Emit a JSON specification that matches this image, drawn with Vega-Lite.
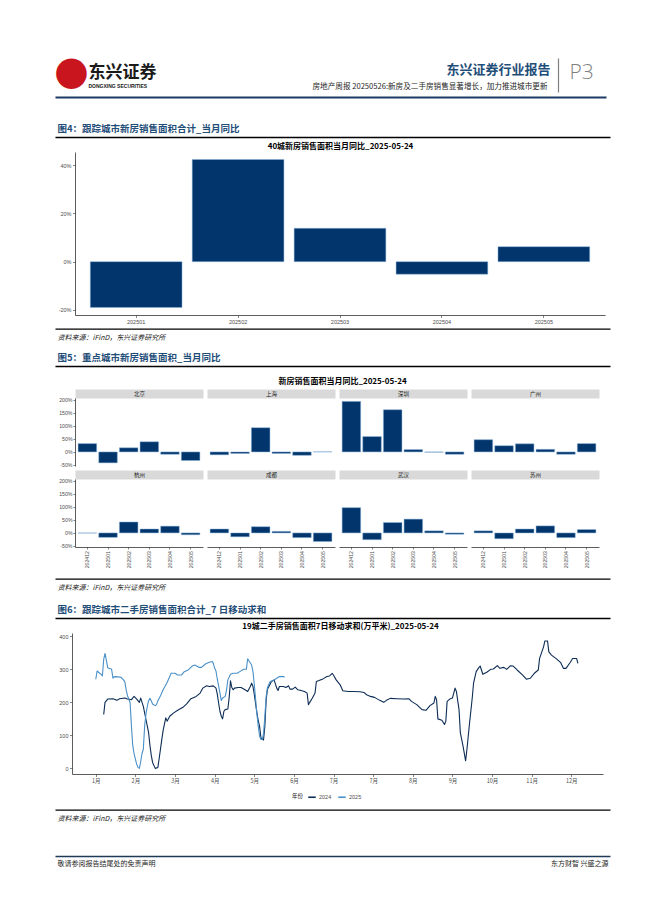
{
  "$schema": "https://vega.github.io/schema/vega-lite/v6.json",
  "background": "white",
  "padding": {"left": 45, "top": 50, "right": 5, "bottom": 5},
  "spacing": 0,
  "bounds": "full",
  "resolve": {"scale": {"x": "independent", "y": "independent", "color": "independent"}, "legend": {"color": "independent"}},
  "config": {
    "view": {"stroke": null},
    "axis": {"grid": false, "labelFlush": false, "labelOverlap": false, "minExtent": 0, "maxExtent": 300, "titlePadding": 0, "labelFont": "Liberation Sans", "titleFont": "Noto Sans CJK SC", "domainCap": "butt"}
  },
  "datasets": {
    "dummy": [{"a": 0, "b": 0}],
    "fig4": [
      {"m": "202501", "v": -19.0}, {"m": "202502", "v": 42.3}, {"m": "202503", "v": 13.8}, {"m": "202504", "v": -5.2}, {"m": "202505", "v": 6.2}
    ],
    "fig5": [
      {"city": "北京", "m": "202412", "v": 32}, {"city": "北京", "m": "202501", "v": -42}, {"city": "北京", "m": "202502", "v": 16}, {"city": "北京", "m": "202503", "v": 39}, {"city": "北京", "m": "202504", "v": -9}, {"city": "北京", "m": "202505", "v": -33},
      {"city": "上海", "m": "202412", "v": -11}, {"city": "上海", "m": "202501", "v": -6}, {"city": "上海", "m": "202502", "v": 93}, {"city": "上海", "m": "202503", "v": -6}, {"city": "上海", "m": "202504", "v": -13}, {"city": "上海", "m": "202505", "v": 0.5},
      {"city": "深圳", "m": "202412", "v": 194}, {"city": "深圳", "m": "202501", "v": 59}, {"city": "深圳", "m": "202502", "v": 162}, {"city": "深圳", "m": "202503", "v": 9}, {"city": "深圳", "m": "202504", "v": -1}, {"city": "深圳", "m": "202505", "v": -9},
      {"city": "广州", "m": "202412", "v": 47}, {"city": "广州", "m": "202501", "v": 24}, {"city": "广州", "m": "202502", "v": 31}, {"city": "广州", "m": "202503", "v": 10}, {"city": "广州", "m": "202504", "v": -9}, {"city": "广州", "m": "202505", "v": 32},
      {"city": "杭州", "m": "202412", "v": -0.5}, {"city": "杭州", "m": "202501", "v": -17}, {"city": "杭州", "m": "202502", "v": 42}, {"city": "杭州", "m": "202503", "v": 15}, {"city": "杭州", "m": "202504", "v": 26}, {"city": "杭州", "m": "202505", "v": -7},
      {"city": "成都", "m": "202412", "v": 15}, {"city": "成都", "m": "202501", "v": -15}, {"city": "成都", "m": "202502", "v": 24}, {"city": "成都", "m": "202503", "v": 6}, {"city": "成都", "m": "202504", "v": -18}, {"city": "成都", "m": "202505", "v": -33},
      {"city": "武汉", "m": "202412", "v": 97}, {"city": "武汉", "m": "202501", "v": -26}, {"city": "武汉", "m": "202502", "v": 40}, {"city": "武汉", "m": "202503", "v": 53}, {"city": "武汉", "m": "202504", "v": 8}, {"city": "武汉", "m": "202505", "v": -5},
      {"city": "苏州", "m": "202412", "v": 8}, {"city": "苏州", "m": "202501", "v": -22}, {"city": "苏州", "m": "202502", "v": 15}, {"city": "苏州", "m": "202503", "v": 27}, {"city": "苏州", "m": "202504", "v": -18}, {"city": "苏州", "m": "202505", "v": 13}
    ],
    "fig6": [
      {"year": "2024", "day": 7, "v": 163}, {"year": "2024", "day": 8, "v": 200}, {"year": "2024", "day": 10, "v": 210}, {"year": "2024", "day": 14, "v": 211}, {"year": "2024", "day": 17, "v": 206}, {"year": "2024", "day": 19, "v": 211}, {"year": "2024", "day": 23, "v": 213}, {"year": "2024", "day": 25, "v": 210}, {"year": "2024", "day": 28, "v": 208}, {"year": "2024", "day": 30, "v": 218}, {"year": "2024", "day": 32, "v": 210}, {"year": "2024", "day": 34, "v": 200}, {"year": "2024", "day": 35, "v": 213}, {"year": "2024", "day": 37, "v": 188}, {"year": "2024", "day": 39, "v": 148}, {"year": "2024", "day": 41, "v": 108}, {"year": "2024", "day": 42, "v": 70}, {"year": "2024", "day": 43, "v": 40}, {"year": "2024", "day": 44, "v": 18}, {"year": "2024", "day": 46, "v": 0}, {"year": "2024", "day": 48, "v": 3}, {"year": "2024", "day": 49, "v": 30}, {"year": "2024", "day": 51, "v": 88}, {"year": "2024", "day": 52, "v": 115}, {"year": "2024", "day": 53, "v": 135}, {"year": "2024", "day": 54, "v": 153}, {"year": "2024", "day": 55, "v": 143}, {"year": "2024", "day": 57, "v": 158}, {"year": "2024", "day": 60, "v": 168}, {"year": "2024", "day": 63, "v": 176}, {"year": "2024", "day": 67, "v": 185}, {"year": "2024", "day": 70, "v": 196}, {"year": "2024", "day": 73, "v": 211}, {"year": "2024", "day": 77, "v": 218}, {"year": "2024", "day": 80, "v": 228}, {"year": "2024", "day": 82, "v": 243}, {"year": "2024", "day": 85, "v": 250}, {"year": "2024", "day": 87, "v": 248}, {"year": "2024", "day": 90, "v": 250}, {"year": "2024", "day": 92, "v": 243}, {"year": "2024", "day": 93, "v": 225}, {"year": "2024", "day": 94, "v": 198}, {"year": "2024", "day": 95, "v": 173}, {"year": "2024", "day": 96, "v": 158}, {"year": "2024", "day": 97, "v": 150}, {"year": "2024", "day": 98, "v": 173}, {"year": "2024", "day": 99, "v": 178}, {"year": "2024", "day": 101, "v": 180}, {"year": "2024", "day": 102, "v": 215}, {"year": "2024", "day": 103, "v": 265}, {"year": "2024", "day": 104, "v": 245}, {"year": "2024", "day": 105, "v": 238}, {"year": "2024", "day": 106, "v": 243}, {"year": "2024", "day": 109, "v": 245}, {"year": "2024", "day": 111, "v": 245}, {"year": "2024", "day": 114, "v": 238}, {"year": "2024", "day": 116, "v": 233}, {"year": "2024", "day": 118, "v": 248}, {"year": "2024", "day": 119, "v": 258}, {"year": "2024", "day": 120, "v": 248}, {"year": "2024", "day": 121, "v": 225}, {"year": "2024", "day": 122, "v": 195}, {"year": "2024", "day": 123, "v": 168}, {"year": "2024", "day": 124, "v": 145}, {"year": "2024", "day": 125, "v": 128}, {"year": "2024", "day": 126, "v": 93}, {"year": "2024", "day": 127, "v": 88}, {"year": "2024", "day": 128, "v": 86}, {"year": "2024", "day": 129, "v": 128}, {"year": "2024", "day": 130, "v": 208}, {"year": "2024", "day": 131, "v": 240}, {"year": "2024", "day": 134, "v": 263}, {"year": "2024", "day": 136, "v": 268}, {"year": "2024", "day": 138, "v": 243}, {"year": "2024", "day": 139, "v": 236}, {"year": "2024", "day": 140, "v": 248}, {"year": "2024", "day": 143, "v": 248}, {"year": "2024", "day": 145, "v": 245}, {"year": "2024", "day": 147, "v": 250}, {"year": "2024", "day": 148, "v": 240}, {"year": "2024", "day": 150, "v": 240}, {"year": "2024", "day": 152, "v": 246}, {"year": "2024", "day": 154, "v": 238}, {"year": "2024", "day": 157, "v": 235}, {"year": "2024", "day": 159, "v": 233}, {"year": "2024", "day": 161, "v": 228}, {"year": "2024", "day": 162, "v": 193}, {"year": "2024", "day": 163, "v": 200}, {"year": "2024", "day": 165, "v": 213}, {"year": "2024", "day": 167, "v": 228}, {"year": "2024", "day": 168, "v": 263}, {"year": "2024", "day": 170, "v": 266}, {"year": "2024", "day": 173, "v": 271}, {"year": "2024", "day": 176, "v": 278}, {"year": "2024", "day": 178, "v": 280}, {"year": "2024", "day": 180, "v": 288}, {"year": "2024", "day": 181, "v": 282}, {"year": "2024", "day": 183, "v": 268}, {"year": "2024", "day": 186, "v": 253}, {"year": "2024", "day": 188, "v": 235}, {"year": "2024", "day": 192, "v": 233}, {"year": "2024", "day": 196, "v": 233}, {"year": "2024", "day": 201, "v": 232}, {"year": "2024", "day": 204, "v": 230}, {"year": "2024", "day": 206, "v": 223}, {"year": "2024", "day": 209, "v": 218}, {"year": "2024", "day": 212, "v": 215}, {"year": "2024", "day": 216, "v": 206}, {"year": "2024", "day": 219, "v": 200}, {"year": "2024", "day": 221, "v": 206}, {"year": "2024", "day": 224, "v": 212}, {"year": "2024", "day": 229, "v": 211}, {"year": "2024", "day": 234, "v": 210}, {"year": "2024", "day": 238, "v": 211}, {"year": "2024", "day": 240, "v": 203}, {"year": "2024", "day": 244, "v": 193}, {"year": "2024", "day": 248, "v": 178}, {"year": "2024", "day": 251, "v": 176}, {"year": "2024", "day": 254, "v": 190}, {"year": "2024", "day": 257, "v": 198}, {"year": "2024", "day": 258, "v": 218}, {"year": "2024", "day": 259, "v": 208}, {"year": "2024", "day": 260, "v": 150}, {"year": "2024", "day": 263, "v": 146}, {"year": "2024", "day": 265, "v": 133}, {"year": "2024", "day": 266, "v": 143}, {"year": "2024", "day": 267, "v": 203}, {"year": "2024", "day": 269, "v": 210}, {"year": "2024", "day": 271, "v": 213}, {"year": "2024", "day": 273, "v": 243}, {"year": "2024", "day": 274, "v": 233}, {"year": "2024", "day": 276, "v": 178}, {"year": "2024", "day": 277, "v": 108}, {"year": "2024", "day": 279, "v": 68}, {"year": "2024", "day": 281, "v": 23}, {"year": "2024", "day": 282, "v": 58}, {"year": "2024", "day": 284, "v": 138}, {"year": "2024", "day": 286, "v": 213}, {"year": "2024", "day": 287, "v": 258}, {"year": "2024", "day": 289, "v": 293}, {"year": "2024", "day": 291, "v": 305}, {"year": "2024", "day": 292, "v": 310}, {"year": "2024", "day": 294, "v": 285}, {"year": "2024", "day": 297, "v": 291}, {"year": "2024", "day": 300, "v": 300}, {"year": "2024", "day": 302, "v": 301}, {"year": "2024", "day": 305, "v": 311}, {"year": "2024", "day": 307, "v": 303}, {"year": "2024", "day": 310, "v": 306}, {"year": "2024", "day": 312, "v": 300}, {"year": "2024", "day": 315, "v": 311}, {"year": "2024", "day": 317, "v": 310}, {"year": "2024", "day": 320, "v": 298}, {"year": "2024", "day": 324, "v": 283}, {"year": "2024", "day": 327, "v": 270}, {"year": "2024", "day": 330, "v": 273}, {"year": "2024", "day": 333, "v": 288}, {"year": "2024", "day": 336, "v": 298}, {"year": "2024", "day": 337, "v": 333}, {"year": "2024", "day": 340, "v": 368}, {"year": "2024", "day": 341, "v": 386}, {"year": "2024", "day": 343, "v": 386}, {"year": "2024", "day": 344, "v": 353}, {"year": "2024", "day": 346, "v": 343}, {"year": "2024", "day": 350, "v": 331}, {"year": "2024", "day": 353, "v": 320}, {"year": "2024", "day": 355, "v": 303}, {"year": "2024", "day": 357, "v": 303}, {"year": "2024", "day": 360, "v": 320}, {"year": "2024", "day": 362, "v": 333}, {"year": "2024", "day": 365, "v": 333}, {"year": "2024", "day": 366, "v": 318},
      {"year": "2025", "day": 1, "v": 270}, {"year": "2025", "day": 2, "v": 295}, {"year": "2025", "day": 4, "v": 288}, {"year": "2025", "day": 5, "v": 285}, {"year": "2025", "day": 6, "v": 280}, {"year": "2025", "day": 7, "v": 330}, {"year": "2025", "day": 8, "v": 348}, {"year": "2025", "day": 9, "v": 328}, {"year": "2025", "day": 10, "v": 305}, {"year": "2025", "day": 12, "v": 302}, {"year": "2025", "day": 13, "v": 300}, {"year": "2025", "day": 14, "v": 273}, {"year": "2025", "day": 15, "v": 278}, {"year": "2025", "day": 18, "v": 277}, {"year": "2025", "day": 20, "v": 276}, {"year": "2025", "day": 22, "v": 268}, {"year": "2025", "day": 23, "v": 262}, {"year": "2025", "day": 24, "v": 238}, {"year": "2025", "day": 25, "v": 220}, {"year": "2025", "day": 26, "v": 210}, {"year": "2025", "day": 27, "v": 198}, {"year": "2025", "day": 28, "v": 128}, {"year": "2025", "day": 29, "v": 68}, {"year": "2025", "day": 30, "v": 45}, {"year": "2025", "day": 31, "v": 28}, {"year": "2025", "day": 32, "v": 12}, {"year": "2025", "day": 33, "v": 3}, {"year": "2025", "day": 34, "v": 0}, {"year": "2025", "day": 35, "v": 20}, {"year": "2025", "day": 36, "v": 45}, {"year": "2025", "day": 37, "v": 58}, {"year": "2025", "day": 38, "v": 128}, {"year": "2025", "day": 39, "v": 165}, {"year": "2025", "day": 40, "v": 188}, {"year": "2025", "day": 41, "v": 205}, {"year": "2025", "day": 42, "v": 212}, {"year": "2025", "day": 43, "v": 205}, {"year": "2025", "day": 44, "v": 195}, {"year": "2025", "day": 46, "v": 190}, {"year": "2025", "day": 47, "v": 193}, {"year": "2025", "day": 48, "v": 205}, {"year": "2025", "day": 50, "v": 220}, {"year": "2025", "day": 52, "v": 238}, {"year": "2025", "day": 55, "v": 260}, {"year": "2025", "day": 57, "v": 278}, {"year": "2025", "day": 58, "v": 288}, {"year": "2025", "day": 61, "v": 288}, {"year": "2025", "day": 63, "v": 283}, {"year": "2025", "day": 66, "v": 283}, {"year": "2025", "day": 68, "v": 293}, {"year": "2025", "day": 71, "v": 298}, {"year": "2025", "day": 74, "v": 310}, {"year": "2025", "day": 76, "v": 313}, {"year": "2025", "day": 79, "v": 306}, {"year": "2025", "day": 81, "v": 306}, {"year": "2025", "day": 84, "v": 316}, {"year": "2025", "day": 86, "v": 320}, {"year": "2025", "day": 89, "v": 324}, {"year": "2025", "day": 90, "v": 318}, {"year": "2025", "day": 91, "v": 303}, {"year": "2025", "day": 92, "v": 295}, {"year": "2025", "day": 93, "v": 270}, {"year": "2025", "day": 94, "v": 250}, {"year": "2025", "day": 95, "v": 228}, {"year": "2025", "day": 96, "v": 206}, {"year": "2025", "day": 97, "v": 213}, {"year": "2025", "day": 99, "v": 218}, {"year": "2025", "day": 100, "v": 238}, {"year": "2025", "day": 101, "v": 268}, {"year": "2025", "day": 103, "v": 285}, {"year": "2025", "day": 105, "v": 288}, {"year": "2025", "day": 108, "v": 288}, {"year": "2025", "day": 110, "v": 293}, {"year": "2025", "day": 113, "v": 300}, {"year": "2025", "day": 115, "v": 300}, {"year": "2025", "day": 116, "v": 332}, {"year": "2025", "day": 117, "v": 325}, {"year": "2025", "day": 119, "v": 313}, {"year": "2025", "day": 120, "v": 293}, {"year": "2025", "day": 121, "v": 255}, {"year": "2025", "day": 122, "v": 210}, {"year": "2025", "day": 123, "v": 165}, {"year": "2025", "day": 124, "v": 128}, {"year": "2025", "day": 125, "v": 98}, {"year": "2025", "day": 126, "v": 88}, {"year": "2025", "day": 127, "v": 88}, {"year": "2025", "day": 128, "v": 105}, {"year": "2025", "day": 129, "v": 158}, {"year": "2025", "day": 130, "v": 218}, {"year": "2025", "day": 131, "v": 245}, {"year": "2025", "day": 133, "v": 263}, {"year": "2025", "day": 135, "v": 265}, {"year": "2025", "day": 138, "v": 273}, {"year": "2025", "day": 140, "v": 278}, {"year": "2025", "day": 143, "v": 278}, {"year": "2025", "day": 144, "v": 276}
    ]
  },
  "vconcat": [
    {
      "width": 530, "height": 50,
      "data": {"name": "dummy"},
      "layer": [
        {
          "mark": {"type": "point", "size": 0, "opacity": 0},
          "encoding": {
            "x": {"field": "a", "type": "quantitative",
              "scale": {"domain": [-20, 531], "range": [-20, 531], "zero": false, "nice": false},
              "axis": {"orient": "bottom", "offset": -3, "domain": true, "domainColor": "#1c3b62", "domainWidth": 2.2,
                "ticks": false, "labels": true, "values": [-4], "labelExpr": "'●'",
                "labelFont": "DejaVu Sans", "labelFontSize": 40, "labelColor": "#c9161e", "labelPadding": -26,
                "labelAlign": "center", "labelBaseline": "middle",
                "title": "房地产周报 20250526:新房及二手房销售显著增长，加力推进城市更新",
                "titleX": 472, "titleY": -11, "titleAlign": "right", "titleBaseline": "middle",
                "titleFontSize": 7.6, "titleFontWeight": "normal", "titleColor": "#262626"}},
            "y": {"field": "b", "type": "quantitative",
              "scale": {"domain": [0, 50], "zero": false, "nice": false},
              "axis": {"orient": "left", "minExtent": 30, "domain": false, "ticks": false, "labels": true,
                "values": [15], "labelExpr": "'DONGXING SECURITIES'", "labelAlign": "left", "labelBaseline": "middle",
                "labelPadding": -13, "labelFont": "Liberation Sans", "labelFontSize": 5, "labelFontWeight": "bold", "labelColor": "#1a1a1a",
                "title": "东兴证券", "titleAngle": 0, "titleX": 13, "titleY": 22, "titleAlign": "left", "titleBaseline": "middle",
                "titleFontSize": 17, "titleFontWeight": "bold", "titleColor": "#1a1a1a"}}
          }
        },
        {
          "mark": {"type": "point", "size": 0, "opacity": 0},
          "encoding": {
            "x": {"field": "a", "type": "quantitative",
              "scale": {"domain": [-20, 531], "range": [-20, 531], "zero": false, "nice": false},
              "axis": {"orient": "top", "domain": false, "ticks": false, "labels": false,
                "title": "东兴证券行业报告", "titleX": 475, "titleY": 19, "titleAlign": "right", "titleBaseline": "middle",
                "titleFontSize": 13, "titleFontWeight": "bold", "titleColor": "#1f4e79"}},
            "y": {"field": "b", "type": "quantitative",
              "scale": {"domain": [0, 1], "range": [42, 8], "zero": false, "nice": false},
              "axis": {"orient": "right", "offset": -47, "domain": true, "domainColor": "#808080", "domainWidth": 1.2, "ticks": false, "labels": false,
                "title": "P3", "titleAngle": 0, "titleX": 11, "titleY": 22, "titleAlign": "left", "titleBaseline": "middle",
                "titleFont": "Open Sans", "titleFontSize": 21, "titleFontWeight": 300, "titleColor": "#7f7f7f"}}
          }
        }
      ],
      "resolve": {"scale": {"x": "independent", "y": "independent"}}
    },
    {
      "width": 530, "height": 38,
      "data": {"name": "dummy"},
      "mark": {"type": "point", "size": 0, "opacity": 0},
      "encoding": {
        "x": {"field": "a", "type": "quantitative",
          "scale": {"domain": [-20, 535], "range": [-20, 535], "zero": false, "nice": false},
          "axis": {"orient": "bottom", "offset": -1, "domain": true, "domainColor": "#000000", "domainWidth": 1.3, "ticks": false, "labels": false,
            "title": "图4：跟踪城市新房销售面积合计_当月同比", "titleX": -18, "titleY": -8.5, "titleAlign": "left", "titleBaseline": "middle",
            "titleFontSize": 9.5, "titleFontWeight": "bold", "titleColor": "#1f4e79"}},
        "y": {"field": "b", "type": "quantitative", "scale": {"domain": [0, 1]}, "axis": null}
      }
    },
    {
      "width": 530, "height": 190,
      "layer": [
        {
          "data": {"name": "fig4"},
          "mark": {"type": "bar", "fill": "#01356b", "stroke": "#8db4dc", "strokeWidth": 0.5},
          "encoding": {
            "x": {"field": "m", "type": "nominal", "scale": {"paddingInner": 0.1, "paddingOuter": 0.15},
              "axis": {"orient": "bottom", "offset": -13, "domain": true, "domainColor": "#333333", "domainWidth": 0.8,
                "ticks": true, "tickSize": 2.5, "tickColor": "#333333", "tickWidth": 0.6,
                "labels": true, "labelAngle": 0, "labelFontSize": 5.5, "labelColor": "#4d4d4d", "labelPadding": 1.5, "title": null}},
            "y": {"field": "v", "type": "quantitative",
              "scale": {"domain": [-22.1, 45.4], "range": [177, 14], "zero": false, "nice": false},
              "axis": {"orient": "left", "values": [-20, 0, 20, 40], "labelExpr": "datum.value + '%'",
                "domain": true, "domainColor": "#333333", "domainWidth": 0.8,
                "ticks": true, "tickSize": 2.5, "tickColor": "#333333", "tickWidth": 0.6,
                "labels": true, "labelFontSize": 5.5, "labelColor": "#4d4d4d", "labelPadding": 1.5, "title": null}}
          }
        },
        {
          "data": {"name": "dummy"},
          "mark": {"type": "point", "size": 0, "opacity": 0},
          "encoding": {
            "x": {"field": "a", "type": "quantitative", "scale": {"domain": [0, 530], "zero": false, "nice": false},
              "axis": {"orient": "top", "domain": false, "ticks": false, "labels": false,
                "title": "40城新房销售面积当月同比_2025-05-24", "titleX": 265, "titleY": 8, "titleAlign": "center", "titleBaseline": "middle",
                "titleFontSize": 8, "titleFontWeight": "bold", "titleColor": "#000000"}},
            "y": {"field": "b", "type": "quantitative", "scale": {"domain": [0, 1]}, "axis": null}
          }
        }
      ],
      "resolve": {"scale": {"x": "independent", "y": "independent"}}
    },
    {
      "width": 530, "height": 61,
      "data": {"name": "dummy"},
      "layer": [
        {
          "mark": {"type": "point", "size": 0, "opacity": 0},
          "encoding": {
            "x": {"field": "a", "type": "quantitative",
              "scale": {"domain": [-20, 535], "range": [-20, 535], "zero": false, "nice": false},
              "axis": {"orient": "bottom", "offset": -23, "domain": true, "domainColor": "#000000", "domainWidth": 1.3, "ticks": false, "labels": false,
                "title": "图5：重点城市新房销售面积_当月同比", "titleX": -18, "titleY": -8.5, "titleAlign": "left", "titleBaseline": "middle",
                "titleFontSize": 9.5, "titleFontWeight": "bold", "titleColor": "#1f4e79"}},
            "y": {"field": "b", "type": "quantitative", "scale": {"domain": [0, 1]},
              "axis": {"orient": "left", "domain": false, "ticks": false, "labels": false,
                "title": "新房销售面积当月同比_2025-05-24", "titleAngle": 0, "titleX": 267, "titleY": 53, "titleAlign": "center", "titleBaseline": "middle",
                "titleFontSize": 8, "titleFontWeight": "bold", "titleColor": "#000000"}}
          }
        },
        {
          "mark": {"type": "point", "size": 0, "opacity": 0},
          "encoding": {
            "x": {"field": "a", "type": "quantitative",
              "scale": {"domain": [-20, 535], "range": [-20, 535], "zero": false, "nice": false},
              "axis": {"orient": "top", "offset": -0.6, "domain": true, "domainColor": "#000000", "domainWidth": 1.3, "ticks": false, "labels": false,
                "title": "资料来源：iFinD，东兴证券研究所", "titleX": -18, "titleY": 8.5, "titleAlign": "left", "titleBaseline": "middle",
                "titleFontSize": 7, "titleFontStyle": "italic", "titleFontWeight": "normal", "titleColor": "#1a1a1a"}},
            "y": {"field": "b", "type": "quantitative", "scale": {"domain": [0, 1]}, "axis": null}
          }
        }
      ],
      "resolve": {"scale": {"x": "independent", "y": "independent"}}
    },
    {
      "spacing": 4, "bounds": "flush",
      "hconcat": [
        {
          "width": 128, "height": 79, "data": {"name": "fig5"},
          "transform": [{"filter": {"field": "city", "equal": "北京"}}],
          "mark": {"type": "bar", "fill": "#01356b", "stroke": "#8db4dc", "strokeWidth": 0.5},
          "encoding": {
            "x": {"field": "m", "type": "nominal", "scale": {"paddingInner": 0.1, "paddingOuter": 0.15},
              "axis": {"orient": "top", "offset": -4.5, "domain": true, "domainColor": "#d9d9d9", "domainWidth": 9, "ticks": false, "labels": false,
                "title": "北京", "titleX": 64, "titleY": 0, "titleAlign": "center", "titleBaseline": "middle", "titleFontSize": 5.5, "titleFontWeight": "normal", "titleColor": "#1a1a1a"}},
            "y": {"field": "v", "type": "quantitative", "scale": {"domain": [-54, 207], "range": [77, 9], "zero": false, "nice": false},
              "axis": {"orient": "left", "values": [-50, 0, 50, 100, 150, 200], "labelExpr": "datum.value + '%'",
                "domain": true, "domainColor": "#333333", "domainWidth": 0.8, "ticks": true, "tickSize": 2, "tickColor": "#333333", "tickWidth": 0.6,
                "labels": true, "labelFontSize": 5.2, "labelColor": "#4d4d4d", "labelPadding": 1, "title": null}}
          }
        },
        {
          "width": 128, "height": 79, "data": {"name": "fig5"},
          "transform": [{"filter": {"field": "city", "equal": "上海"}}],
          "mark": {"type": "bar", "fill": "#01356b", "stroke": "#8db4dc", "strokeWidth": 0.5},
          "encoding": {
            "x": {"field": "m", "type": "nominal", "scale": {"paddingInner": 0.1, "paddingOuter": 0.15},
              "axis": {"orient": "top", "offset": -4.5, "domain": true, "domainColor": "#d9d9d9", "domainWidth": 9, "ticks": false, "labels": false,
                "title": "上海", "titleX": 64, "titleY": 0, "titleAlign": "center", "titleBaseline": "middle", "titleFontSize": 5.5, "titleFontWeight": "normal", "titleColor": "#1a1a1a"}},
            "y": {"field": "v", "type": "quantitative", "scale": {"domain": [-54, 207], "range": [77, 9], "zero": false, "nice": false}, "axis": null}
          }
        },
        {
          "width": 128, "height": 79, "data": {"name": "fig5"},
          "transform": [{"filter": {"field": "city", "equal": "深圳"}}],
          "mark": {"type": "bar", "fill": "#01356b", "stroke": "#8db4dc", "strokeWidth": 0.5},
          "encoding": {
            "x": {"field": "m", "type": "nominal", "scale": {"paddingInner": 0.1, "paddingOuter": 0.15},
              "axis": {"orient": "top", "offset": -4.5, "domain": true, "domainColor": "#d9d9d9", "domainWidth": 9, "ticks": false, "labels": false,
                "title": "深圳", "titleX": 64, "titleY": 0, "titleAlign": "center", "titleBaseline": "middle", "titleFontSize": 5.5, "titleFontWeight": "normal", "titleColor": "#1a1a1a"}},
            "y": {"field": "v", "type": "quantitative", "scale": {"domain": [-54, 207], "range": [77, 9], "zero": false, "nice": false}, "axis": null}
          }
        },
        {
          "width": 128, "height": 79, "data": {"name": "fig5"},
          "transform": [{"filter": {"field": "city", "equal": "广州"}}],
          "mark": {"type": "bar", "fill": "#01356b", "stroke": "#8db4dc", "strokeWidth": 0.5},
          "encoding": {
            "x": {"field": "m", "type": "nominal", "scale": {"paddingInner": 0.1, "paddingOuter": 0.15},
              "axis": {"orient": "top", "offset": -4.5, "domain": true, "domainColor": "#d9d9d9", "domainWidth": 9, "ticks": false, "labels": false,
                "title": "广州", "titleX": 64, "titleY": 0, "titleAlign": "center", "titleBaseline": "middle", "titleFontSize": 5.5, "titleFontWeight": "normal", "titleColor": "#1a1a1a"}},
            "y": {"field": "v", "type": "quantitative", "scale": {"domain": [-54, 207], "range": [77, 9], "zero": false, "nice": false}, "axis": null}
          }
        }
      ]
    },
    {
      "spacing": 4, "bounds": "flush",
      "hconcat": [
        {
          "width": 128, "height": 109, "data": {"name": "fig5"},
          "transform": [{"filter": {"field": "city", "equal": "杭州"}}],
          "layer": [
            {
              "mark": {"type": "bar", "fill": "#01356b", "stroke": "#8db4dc", "strokeWidth": 0.5},
              "encoding": {
                "x": {"field": "m", "type": "nominal", "scale": {"paddingInner": 0.1, "paddingOuter": 0.15},
                  "axis": {"orient": "bottom", "offset": -31, "domain": true, "domainColor": "#333333", "domainWidth": 0.8, "ticks": true, "tickSize": 2, "tickColor": "#333333", "tickWidth": 0.6,
                    "labels": true, "labelAngle": 270, "labelAlign": "right", "labelBaseline": "middle", "labelFontSize": 5.2, "labelColor": "#4d4d4d", "labelPadding": 1.5, "title": null}},
                "y": {"field": "v", "type": "quantitative", "scale": {"domain": [-54, 207], "range": [78, 10], "zero": false, "nice": false},
                  "axis": {"orient": "left", "values": [-50, 0, 50, 100, 150, 200], "labelExpr": "datum.value + '%'",
                    "domain": true, "domainColor": "#333333", "domainWidth": 0.8, "ticks": true, "tickSize": 2, "tickColor": "#333333", "tickWidth": 0.6,
                    "labels": true, "labelFontSize": 5.2, "labelColor": "#4d4d4d", "labelPadding": 1, "title": null}}
              }
            },
            {
              "mark": {"type": "point", "size": 0, "opacity": 0},
              "encoding": {
                "x": {"field": "m", "type": "nominal",
                  "axis": {"orient": "top", "offset": -5.5, "domain": true, "domainColor": "#d9d9d9", "domainWidth": 9, "ticks": false, "labels": false,
                    "title": "杭州", "titleX": 64, "titleY": 0, "titleAlign": "center", "titleBaseline": "middle", "titleFontSize": 5.5, "titleFontWeight": "normal", "titleColor": "#1a1a1a"}}
              }
            }
          ],
          "resolve": {"axis": {"x": "independent"}}
        },
        {
          "width": 128, "height": 109, "data": {"name": "fig5"},
          "transform": [{"filter": {"field": "city", "equal": "成都"}}],
          "layer": [
            {
              "mark": {"type": "bar", "fill": "#01356b", "stroke": "#8db4dc", "strokeWidth": 0.5},
              "encoding": {
                "x": {"field": "m", "type": "nominal", "scale": {"paddingInner": 0.1, "paddingOuter": 0.15},
                  "axis": {"orient": "bottom", "offset": -31, "domain": true, "domainColor": "#333333", "domainWidth": 0.8, "ticks": true, "tickSize": 2, "tickColor": "#333333", "tickWidth": 0.6,
                    "labels": true, "labelAngle": 270, "labelAlign": "right", "labelBaseline": "middle", "labelFontSize": 5.2, "labelColor": "#4d4d4d", "labelPadding": 1.5, "title": null}},
                "y": {"field": "v", "type": "quantitative", "scale": {"domain": [-54, 207], "range": [78, 10], "zero": false, "nice": false}, "axis": null}
              }
            },
            {
              "mark": {"type": "point", "size": 0, "opacity": 0},
              "encoding": {
                "x": {"field": "m", "type": "nominal",
                  "axis": {"orient": "top", "offset": -5.5, "domain": true, "domainColor": "#d9d9d9", "domainWidth": 9, "ticks": false, "labels": false,
                    "title": "成都", "titleX": 64, "titleY": 0, "titleAlign": "center", "titleBaseline": "middle", "titleFontSize": 5.5, "titleFontWeight": "normal", "titleColor": "#1a1a1a"}}
              }
            }
          ],
          "resolve": {"axis": {"x": "independent"}}
        },
        {
          "width": 128, "height": 109, "data": {"name": "fig5"},
          "transform": [{"filter": {"field": "city", "equal": "武汉"}}],
          "layer": [
            {
              "mark": {"type": "bar", "fill": "#01356b", "stroke": "#8db4dc", "strokeWidth": 0.5},
              "encoding": {
                "x": {"field": "m", "type": "nominal", "scale": {"paddingInner": 0.1, "paddingOuter": 0.15},
                  "axis": {"orient": "bottom", "offset": -31, "domain": true, "domainColor": "#333333", "domainWidth": 0.8, "ticks": true, "tickSize": 2, "tickColor": "#333333", "tickWidth": 0.6,
                    "labels": true, "labelAngle": 270, "labelAlign": "right", "labelBaseline": "middle", "labelFontSize": 5.2, "labelColor": "#4d4d4d", "labelPadding": 1.5, "title": null}},
                "y": {"field": "v", "type": "quantitative", "scale": {"domain": [-54, 207], "range": [78, 10], "zero": false, "nice": false}, "axis": null}
              }
            },
            {
              "mark": {"type": "point", "size": 0, "opacity": 0},
              "encoding": {
                "x": {"field": "m", "type": "nominal",
                  "axis": {"orient": "top", "offset": -5.5, "domain": true, "domainColor": "#d9d9d9", "domainWidth": 9, "ticks": false, "labels": false,
                    "title": "武汉", "titleX": 64, "titleY": 0, "titleAlign": "center", "titleBaseline": "middle", "titleFontSize": 5.5, "titleFontWeight": "normal", "titleColor": "#1a1a1a"}}
              }
            }
          ],
          "resolve": {"axis": {"x": "independent"}}
        },
        {
          "width": 128, "height": 109, "data": {"name": "fig5"},
          "transform": [{"filter": {"field": "city", "equal": "苏州"}}],
          "layer": [
            {
              "mark": {"type": "bar", "fill": "#01356b", "stroke": "#8db4dc", "strokeWidth": 0.5},
              "encoding": {
                "x": {"field": "m", "type": "nominal", "scale": {"paddingInner": 0.1, "paddingOuter": 0.15},
                  "axis": {"orient": "bottom", "offset": -31, "domain": true, "domainColor": "#333333", "domainWidth": 0.8, "ticks": true, "tickSize": 2, "tickColor": "#333333", "tickWidth": 0.6,
                    "labels": true, "labelAngle": 270, "labelAlign": "right", "labelBaseline": "middle", "labelFontSize": 5.2, "labelColor": "#4d4d4d", "labelPadding": 1.5, "title": null}},
                "y": {"field": "v", "type": "quantitative", "scale": {"domain": [-54, 207], "range": [78, 10], "zero": false, "nice": false}, "axis": null}
              }
            },
            {
              "mark": {"type": "point", "size": 0, "opacity": 0},
              "encoding": {
                "x": {"field": "m", "type": "nominal",
                  "axis": {"orient": "top", "offset": -5.5, "domain": true, "domainColor": "#d9d9d9", "domainWidth": 9, "ticks": false, "labels": false,
                    "title": "苏州", "titleX": 64, "titleY": 0, "titleAlign": "center", "titleBaseline": "middle", "titleFontSize": 5.5, "titleFontWeight": "normal", "titleColor": "#1a1a1a"}}
              }
            }
          ],
          "resolve": {"axis": {"x": "independent"}}
        }
      ]
    },
    {
      "width": 530, "height": 55,
      "data": {"name": "dummy"},
      "layer": [
        {
          "mark": {"type": "point", "size": 0, "opacity": 0},
          "encoding": {
            "x": {"field": "a", "type": "quantitative",
              "scale": {"domain": [-20, 535], "range": [-20, 535], "zero": false, "nice": false},
              "axis": {"orient": "bottom", "offset": -15, "domain": true, "domainColor": "#000000", "domainWidth": 1.3, "ticks": false, "labels": false,
                "title": "图6：跟踪城市二手房销售面积合计_7 日移动求和", "titleX": -18, "titleY": -8.5, "titleAlign": "left", "titleBaseline": "middle",
                "titleFontSize": 9.5, "titleFontWeight": "bold", "titleColor": "#1f4e79"}},
            "y": {"field": "b", "type": "quantitative", "scale": {"domain": [0, 1]},
              "axis": {"orient": "left", "domain": false, "ticks": false, "labels": false,
                "title": "19城二手房销售面积7日移动求和(万平米)_2025-05-24", "titleAngle": 0, "titleX": 265, "titleY": 48, "titleAlign": "center", "titleBaseline": "middle",
                "titleFontSize": 8, "titleFontWeight": "bold", "titleColor": "#000000"}}
          }
        },
        {
          "mark": {"type": "point", "size": 0, "opacity": 0},
          "encoding": {
            "x": {"field": "a", "type": "quantitative",
              "scale": {"domain": [-20, 535], "range": [-20, 535], "zero": false, "nice": false},
              "axis": {"orient": "top", "offset": -0.6, "domain": true, "domainColor": "#000000", "domainWidth": 1.3, "ticks": false, "labels": false,
                "title": "资料来源：iFinD，东兴证券研究所", "titleX": -18, "titleY": 8.5, "titleAlign": "left", "titleBaseline": "middle",
                "titleFontSize": 7, "titleFontStyle": "italic", "titleFontWeight": "normal", "titleColor": "#1a1a1a"}},
            "y": {"field": "b", "type": "quantitative", "scale": {"domain": [0, 1]}, "axis": null}
          }
        }
      ],
      "resolve": {"scale": {"x": "independent", "y": "independent"}}
    },
    {
      "width": 530, "height": 176,
      "data": {"name": "fig6"},
      "mark": {"type": "line", "strokeWidth": 1.1, "strokeJoin": "round"},
      "encoding": {
        "x": {"field": "day", "type": "quantitative",
          "scale": {"domain": [-17, 385], "range": [-3, 528], "zero": false, "nice": false},
          "axis": {"orient": "bottom", "offset": -35, "values": [1, 31, 61, 91, 121, 151, 181, 211, 241, 271, 301, 331, 361],
            "labelExpr": "['1月','2月','3月','4月','5月','6月','7月','7月','8月','9月','10月','11月','12月'][round((datum.value - 1) / 30)]",
            "domain": true, "domainColor": "#333333", "domainWidth": 0.8, "ticks": true, "tickSize": 2.5, "tickColor": "#333333", "tickWidth": 0.6,
            "labels": true, "labelFont": "Noto Sans CJK SC", "labelFontSize": 5.5, "labelColor": "#4d4d4d", "labelPadding": 1.5, "title": null}},
        "y": {"field": "v", "type": "quantitative",
          "scale": {"domain": [-17, 410], "range": [141, 0], "zero": false, "nice": false},
          "axis": {"orient": "left", "offset": 3, "values": [0, 100, 200, 300, 400],
            "domain": true, "domainColor": "#333333", "domainWidth": 0.8, "ticks": true, "tickSize": 2.5, "tickColor": "#333333", "tickWidth": 0.6,
            "labels": true, "labelFontSize": 5.5, "labelColor": "#4d4d4d", "labelPadding": 1.5, "title": null}},
        "color": {"field": "year", "type": "nominal",
          "scale": {"domain": ["2024", "2025"], "range": ["#0c2c55", "#4a90c8"]},
          "legend": {"orient": "none", "legendX": 217, "legendY": 159, "direction": "horizontal",
            "title": "年份", "titleOrient": "left", "titleFont": "Noto Sans CJK SC", "titleFontSize": 5.5, "titleFontWeight": "normal", "titleColor": "#1a1a1a", "titlePadding": 3,
            "symbolType": "stroke", "symbolSize": 55, "symbolStrokeWidth": 1.6,
            "labelFont": "Liberation Sans", "labelFontSize": 5.5, "labelColor": "#4d4d4d", "labelOffset": 2, "columnPadding": 3}}
      }
    },
    {
      "width": 530, "height": 62,
      "data": {"name": "dummy"},
      "layer": [
        {
          "mark": {"type": "point", "size": 0, "opacity": 0},
          "encoding": {
            "x": {"field": "a", "type": "quantitative",
              "scale": {"domain": [-20, 535], "range": [-20, 535], "zero": false, "nice": false},
              "axis": {"orient": "bottom", "offset": -15, "domain": true, "domainColor": "#1f3a57", "domainWidth": 1.5, "ticks": false,
                "labels": true, "values": [-18, 533],
                "labelExpr": "datum.value < 0 ? '敬请参阅报告结尾处的免责声明' : '东方财智 兴盛之源'",
                "labelFlush": 6, "labelPadding": 3, "labelBaseline": "top", "labelFont": "Noto Sans CJK SC", "labelFontSize": 7, "labelColor": "#262626", "title": null}},
            "y": {"field": "b", "type": "quantitative", "scale": {"domain": [0, 1]}, "axis": null}
          }
        },
        {
          "mark": {"type": "point", "size": 0, "opacity": 0},
          "encoding": {
            "x": {"field": "a", "type": "quantitative",
              "scale": {"domain": [-20, 535], "range": [-20, 535], "zero": false, "nice": false},
              "axis": {"orient": "top", "offset": -0.6, "domain": true, "domainColor": "#000000", "domainWidth": 1.3, "ticks": false, "labels": false,
                "title": "资料来源：iFinD，东兴证券研究所", "titleX": -18, "titleY": 8.5, "titleAlign": "left", "titleBaseline": "middle",
                "titleFontSize": 7, "titleFontStyle": "italic", "titleFontWeight": "normal", "titleColor": "#1a1a1a"}},
            "y": {"field": "b", "type": "quantitative", "scale": {"domain": [0, 1]}, "axis": null}
          }
        }
      ],
      "resolve": {"scale": {"x": "independent", "y": "independent"}}
    }
  ]
}
